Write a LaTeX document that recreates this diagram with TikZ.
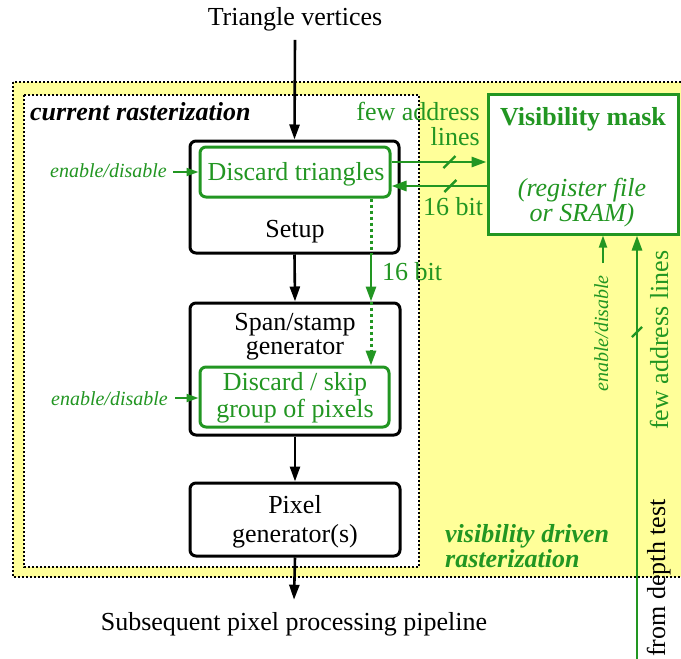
\documentclass[tikz,border=0pt]{standalone}
\usepackage{fontspec}
\setmainfont{Liberation Serif}
\usetikzlibrary{arrows.meta,calc}
\definecolor{gr}{RGB}{34,150,34}
\definecolor{yel}{RGB}{255,255,153}
\begin{document}
\begin{tikzpicture}[x=1pt,y=-1pt,
  font=\fontsize{26}{30}\selectfont,
  txt/.style={inner sep=0pt, anchor=base},
  gtxt/.style={inner sep=0pt, anchor=base, text=gr},
  small/.style={font=\fontsize{20}{24}\selectfont\itshape, text=gr, inner sep=0pt},
  blk/.style={draw=black, fill=white, line width=3pt, rounded corners=6pt, inner sep=0pt},
  gbox/.style={draw=gr, line width=3pt, rounded corners=6pt, inner sep=0pt},
  barrow/.style={line width=2.6pt, -{Triangle[length=15pt,width=10pt]}},
  garrow/.style={draw=gr, line width=2.8pt, -{Triangle[length=15pt,width=10pt]}},
  gsmallarrow/.style={draw=gr, line width=1.8pt, -{Triangle[length=12pt,width=8pt]}},
  gdot/.style={draw=gr, line width=3pt, dash pattern=on 3pt off 3pt},
  gtick/.style={draw=gr, line width=2.4pt},
  region/.style={draw=black, line width=1.3pt, dash pattern=on 2pt off 2pt},
]
\useasboundingbox (0,0) rectangle (681,659);
% regions
\draw[region, fill=yel] (13,82) rectangle (684,577);
\draw[region, fill=white] (24,95) rectangle (419,567);

% boxes
\node[blk, minimum width=209pt, minimum height=112pt] (setup) at (294.5,197) {};
\node[gbox, minimum width=190pt, minimum height=50pt] (disctri) at (295,172) {};
\node[blk, minimum width=210pt, minimum height=132pt] (span) at (295,369) {};
\node[gbox, minimum width=189pt, minimum height=60pt] (discskip) at (294.5,397) {};
\node[blk, minimum width=210pt, minimum height=73pt] (pixel) at (295,519.5) {};
\node[draw=gr, fill=white, line width=3pt, inner sep=0pt, minimum width=190pt, minimum height=140pt] (mask) at (583,164) {};

% texts
\node[txt] (tv) at (295,25) {Triangle vertices};
\node[txt, anchor=base west] (cur) at (30,120) {\bfseries\itshape current rasterization};
\node[gtxt] (t1) at (296,180) {Discard triangles};
\node[txt] (t2) at (295,237) {Setup};
\node[txt] (t3) at (295,330) {Span/stamp};
\node[txt] (t4) at (295,354) {generator};
\node[gtxt] (t5) at (295,390) {Discard / skip};
\node[gtxt] (t6) at (295,417) {group of pixels};
\node[txt] (t7) at (295,513) {Pixel};
\node[txt] (t8) at (295,542) {generator(s)};
\node[txt] (sub) at (294,630) {Subsequent pixel processing pipeline};
\node[gtxt] (vm) at (583,125) {\bfseries Visibility mask};
\node[gtxt] (rf) at (582,196) {\itshape (register file};
\node[gtxt] (sr) at (582,221) {\itshape or SRAM)};
\node[gtxt, anchor=base east] (fa1) at (480,120) {few address};
\node[gtxt, anchor=base east] (fa2) at (480,145) {lines};
\node[gtxt, anchor=base west] (b1) at (423,215) {16 bit};
\node[gtxt, anchor=base west] (b2) at (382,280) {16 bit};
\node[gtxt, anchor=base west] (vd1) at (445,542) {\bfseries\itshape visibility driven};
\node[gtxt, anchor=base west] (vd2) at (445,567) {\bfseries\itshape rasterization};
\node[small, anchor=base east] (en1) at (167,177) {enable/disable};
\node[small, anchor=base east] (en2) at (168,405) {enable/disable};
\node[small, anchor=base east, rotate=90] (en3) at (608,275) {enable/disable};
\node[gtxt, anchor=base west, rotate=90] (fal) at (668,430) {few address lines};
\node[txt, anchor=base west, rotate=90] (fdt) at (665,657) {from depth test};

% black flow
\draw[barrow] ([yshift=-9pt]tv.south) -- (setup.north);
\draw[barrow] (setup.south) -- (span.north);
\draw[barrow] (span.south) -- (pixel.south |- pixel.north);
\draw[barrow] (pixel.south) -- ([yshift=12pt]sub.north);

% enable/disable arrows
\draw[gsmallarrow] ([xshift=6pt,yshift=5pt]en1.base east) -- ([yshift=5pt]en1.base east -| disctri.west);
\draw[gsmallarrow] ([xshift=7pt,yshift=7pt]en2.base east) -- ([yshift=7pt]en2.base east -| discskip.west);
\draw[gsmallarrow] ([xshift=-5pt,yshift=12pt]en3.base east) -- ([xshift=-5pt]en3.base east |- mask.south);

% address / data lines between discard triangles and mask
\draw[garrow] ([yshift=10pt]disctri.east) -- coordinate[pos=0.61] (k1) ([yshift=10pt]disctri.east -| mask.west);
\draw[garrow] ([yshift=-14pt]disctri.east -| mask.west) -- coordinate[pos=0.38] (k2) ([yshift=-14pt]disctri.east);
\draw[gtick] ([xshift=-6pt,yshift=-6pt]k1) -- ([xshift=6pt,yshift=6pt]k1);
\draw[gtick] ([xshift=-6pt,yshift=-6pt]k2) -- ([xshift=6pt,yshift=6pt]k2);

% 16 bit path to discard/skip
\coordinate (vx) at ([xshift=76pt]disctri.south);
\draw[gdot] (vx) -- (vx |- setup.south);
\draw[garrow] (vx |- setup.south) -- (vx |- span.north);
\draw[gdot, -{Triangle[length=15pt,width=10pt]}] (vx |- span.north) -- (vx |- discskip.north);

% from depth test
\coordinate (dep) at (637,662);
\draw[garrow] (dep) -- (dep |- mask.south);
\coordinate (k3) at (637,332);
\draw[gtick] ([xshift=-5pt,yshift=-5pt]k3) -- ([xshift=5pt,yshift=5pt]k3);
\end{tikzpicture}
\end{document}
